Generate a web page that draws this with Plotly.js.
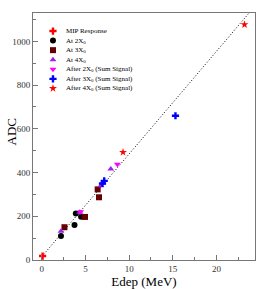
<!DOCTYPE html>
<html><head><meta charset="utf-8">
<script src="https://cdn.plot.ly/plotly-3.0.1.min.js"></script>
<style>html,body{margin:0;padding:0;background:#fff;}#plot{width:268px;height:289px;}</style>
</head><body><div id="plot"></div>
<script>
// Data (Edep in MeV, ADC)
const mipX = [0.1];            const mipY = [18];
const at2X = [2.2, 3.75, 3.9, 4.5];   const at2Y = [110, 160, 213, 198];
const at3X = [2.6, 4.95, 6.4, 6.55];  const at3Y = [150, 197, 323, 287];
const at4X = [2.2, 4.35, 6.75, 7.9];  const at4Y = [132, 218, 340, 416];
const aft2X = [4.45, 8.65];           const aft2Y = [221, 438];
const aft3X = [6.95, 7.15, 15.3];     const aft3Y = [350, 362, 660];
const aft4X = [9.3, 23.2];            const aft4Y = [493, 1077];
const fitX = [0, 24];                 const fitY = [15, 1143];
const legendLabels = ['MIP Response','At 2X<sub>0</sub>','At 3X<sub>0</sub>','At 4X<sub>0</sub>',
  'After 2X<sub>0</sub> (Sum Signal)','After 3X<sub>0</sub> (Sum Signal)','After 4X<sub>0</sub> (Sum Signal)'];

const styles = [
  {symbol:'cross', color:'#ff0000', size:6},
  {symbol:'circle', color:'#000000', size:6},
  {symbol:'square', color:'#660000', size:6},
  {symbol:'triangle-up', color:'#a020f0', size:6},
  {symbol:'triangle-down', color:'#ff00ff', size:6},
  {symbol:'cross', color:'#0000ff', size:6},
  {symbol:'star', color:'#ff0000', size:6}
];
const series = [[mipX,mipY],[at2X,at2Y],[at3X,at3Y],[at4X,at4Y],[aft2X,aft2Y],[aft3X,aft3Y],[aft4X,aft4Y]];

const traces = [{x:fitX, y:fitY, mode:'lines', line:{color:'#000', width:1, dash:'1px,2px'}, showlegend:false, hoverinfo:'skip'}];
series.forEach((s,i)=>{
  traces.push({x:s[0], y:s[1], mode:'markers', showlegend:false,
    marker:{symbol:styles[i].symbol, color:styles[i].color, size:styles[i].size, line:{width:0}}});
});
// custom compact legend on overlay axes
const legX0 = 0.09, legY0 = 0.927, legStep = 0.0387;
const annotations = [];
legendLabels.forEach((t,i)=>{
  const y = legY0 - i*legStep;
  traces.push({x:[legX0], y:[y], xaxis:'x2', yaxis:'y2', mode:'markers', showlegend:false, hoverinfo:'skip',
    marker:{symbol:styles[i].symbol, color:styles[i].color, size:styles[i].size, line:{width:0}}});
  annotations.push({xref:'x2', yref:'y2', x:legX0+0.05, y:y, text:t, showarrow:false, xanchor:'left', yanchor:'middle',
    font:{family:'Liberation Serif', size:7, color:'#000'}});
});
annotations.push({xref:'paper', yref:'paper', x:-0.095, y:0.52, text:'ADC', textangle:-90, showarrow:false,
  xanchor:'center', yanchor:'middle', font:{family:'Liberation Serif', size:13, color:'#000'}});

const layout = {
  width:268, height:289,
  margin:{l:33, r:13, t:13, b:29, pad:0},
  paper_bgcolor:'#fff', plot_bgcolor:'#fff',
  font:{family:'Liberation Serif', color:'#000'},
  showlegend:false,
  xaxis:{range:[-1, 24.4], tickvals:[0,5,10,15,20], ticks:'inside', ticklen:5, tickcolor:'#777', tickwidth:1,
    minor:{dtick:2.5, tick0:0, ticks:'inside', ticklen:3, tickcolor:'#777'},
    showgrid:false, zeroline:false, showline:true, linecolor:'#777', linewidth:1, mirror:true,
    tickfont:{family:'Liberation Serif', size:9, color:'#333'},
    title:{text:'Edep (MeV)', font:{family:'Liberation Serif', size:13, color:'#000'}, standoff:2}},
  yaxis:{range:[0, 1130], tickvals:[0,200,400,600,800,1000], ticks:'inside', ticklen:5, tickcolor:'#777', tickwidth:1,
    minor:{dtick:100, tick0:0, ticks:'inside', ticklen:3, tickcolor:'#777'},
    showgrid:false, zeroline:false, showline:true, linecolor:'#777', linewidth:1, mirror:true,
    tickfont:{family:'Liberation Serif', size:9, color:'#333'}},
  xaxis2:{overlaying:'x', range:[0,1], visible:false, fixedrange:true},
  yaxis2:{overlaying:'y', range:[0,1], visible:false, fixedrange:true},
  annotations: annotations
};
Plotly.newPlot('plot', traces, layout, {displayModeBar:false, staticPlot:true});
</script></body></html>
